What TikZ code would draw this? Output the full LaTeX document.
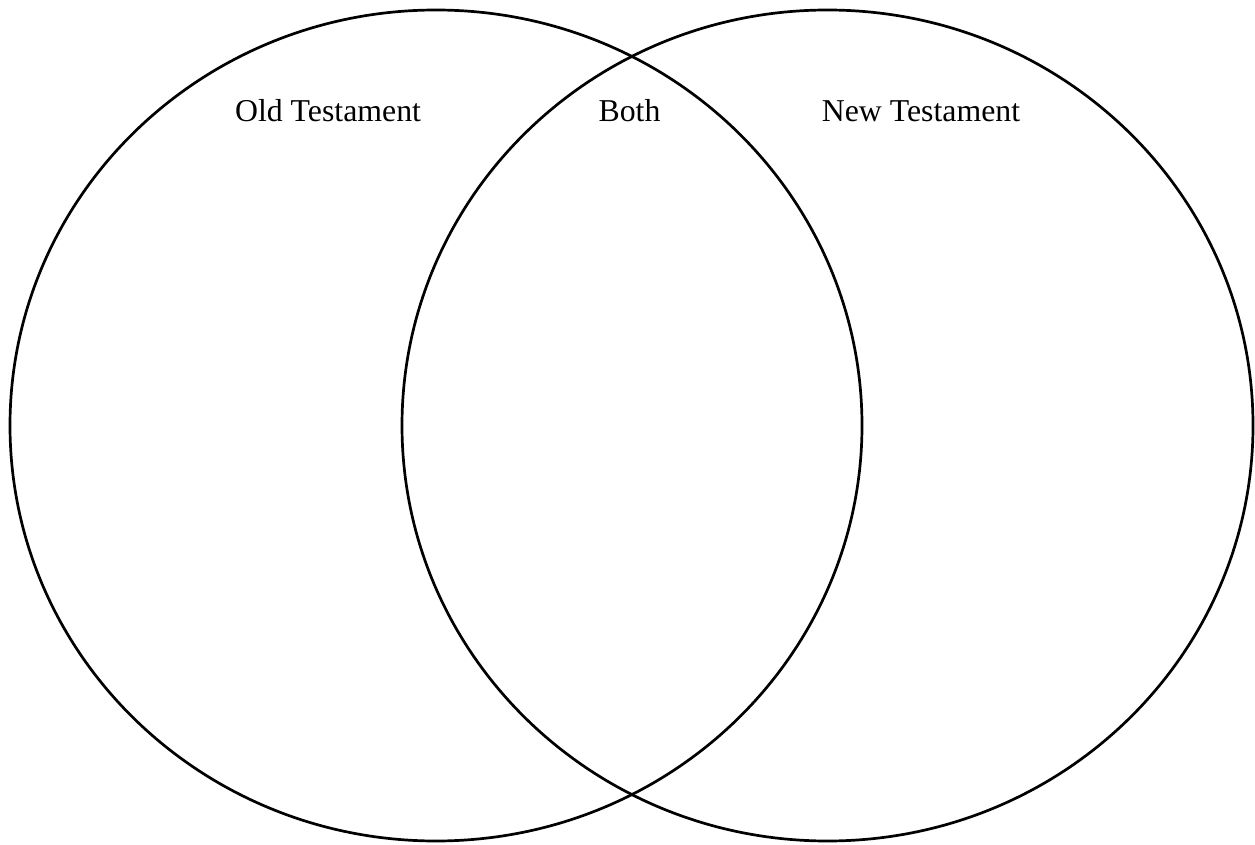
\documentclass[tikz,border=0pt]{standalone}
\usepackage{fontspec}
\setmainfont{Liberation Serif}
\begin{document}
\begin{tikzpicture}[x=1pt,y=1pt,
  setshape/.style={draw=black,line width=2.7pt},
  lbl/.style={anchor=base,inner sep=0pt,font=\fontsize{31.8}{36}\selectfont}]
\useasboundingbox (0,0) rectangle (1255,844);
\fill[white] (0,0) rectangle (1255,844);
\draw[setshape] (436,418.5) ellipse [x radius=426, y radius=415.5];
\draw[setshape] (827.5,418.5) ellipse [x radius=425.5, y radius=415.5];
\node[lbl] (old) at (328,722) {Old Testament};
\node[lbl] (both) at (629.5,722) {Both};
\node[lbl] (new) at (921,722) {New Testament};
\end{tikzpicture}
\end{document}
